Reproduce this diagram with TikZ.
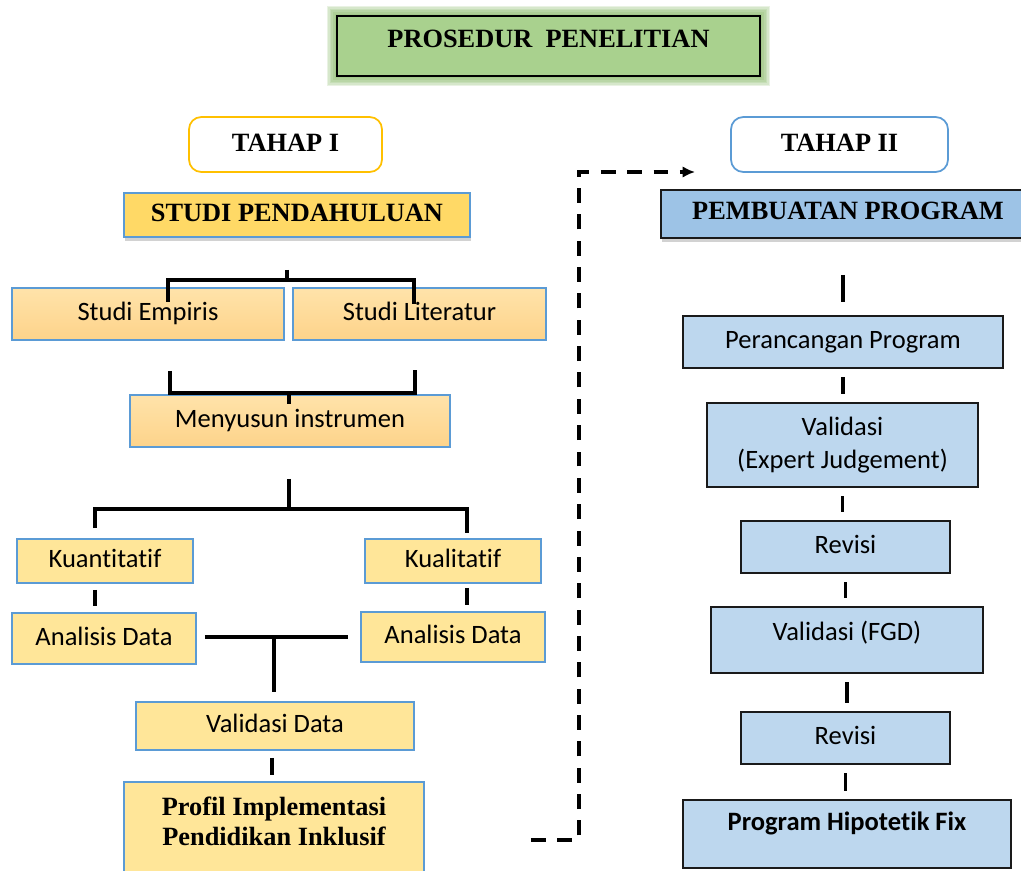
\documentclass[tikz,border=0pt]{standalone}
\usepackage{fontspec}
\usepackage{xcolor,tikz}
\usetikzlibrary{positioning,calc,shadows,backgrounds,arrows.meta}
\newfontfamily\calibri{Carlito}[Ligatures=NoCommon]
\newfontfamily\timesb{Liberation Serif}
\definecolor{ppGreenFill}{HTML}{A9D18E}
\definecolor{ppGreenGlow}{HTML}{70AD47}
\definecolor{ppGoldLine}{HTML}{FFC000}
\definecolor{ppBlueLine}{HTML}{5B9BD5}
\definecolor{ppYellowFill}{HTML}{FFD966}
\definecolor{ppPaleYellow}{HTML}{FFE699}
\definecolor{ppOrangeTop}{HTML}{FFE3AA}
\definecolor{ppOrangeBot}{HTML}{FDD38A}
\definecolor{ppBlueFill}{HTML}{9DC3E6}
\definecolor{ppPaleBlue}{HTML}{BDD7EE}
\definecolor{ppDarkLine}{HTML}{1A1A1A}

\tikzset{
  bx/.style={draw, rectangle, inner sep=0pt, line width=1pt},
  dims/.style 2 args={minimum width=#1*0.02cm, minimum height=#2*0.02cm},
  ln/.style={text height=10.8pt, text depth=#1},
  ln/.default=3pt,
  body/.style={font=\calibri\fontsize{15.1}{18.7}\selectfont},
  head/.style={font=\timesb\bfseries\fontsize{15}{17}\selectfont},
  orangebox/.style={bx, body, ln, draw=ppBlueLine, top color=ppOrangeTop, bottom color=ppOrangeBot},
  yellowbox/.style={bx, body, ln, draw=ppBlueLine, fill=ppPaleYellow},
  bluebox/.style={bx, body, draw=ppDarkLine, line width=1.3pt, fill=ppPaleBlue},
  tahapbox/.style={bx, head, ln, rounded corners=7pt, fill=white},
  link/.style={line width=2pt},
  dashlink/.style={line width=2pt, dash pattern=on 8.5pt off 6.5pt,
    -{Latex[length=7pt,width=6.5pt]}},
}

\begin{document}
\begin{tikzpicture}[x=0.02cm, y=-0.02cm]

\useasboundingbox (0,0) rectangle (1021,871);
\begin{scope}[on background layer]
  \fill[white] (0,0) rectangle (1021,871);
\end{scope}

% --- TITLE ---
\node[bx, head, ln=8.7pt, fill=ppGreenFill, draw=black, dims={423}{60}]
  (judul) at (548.5,46) {PROSEDUR\ \ PENELITIAN};
\begin{scope}[on background layer]
  \foreach \w in {1,...,6}
    \draw[ppGreenGlow, opacity=0.15, line width=\w*1.8pt]
      (judul.south west) rectangle (judul.north east);
\end{scope}

% --- TAHAP LABELS ---
\node[tahapbox, draw=ppGoldLine, dims={193}{55}] (tahapI) at (285.5,144.5) {TAHAP I};
\node[tahapbox, draw=ppBlueLine, dims={217}{55}] (tahapII) at (839.5,144.5) {TAHAP II};

\node[bx, head, ln, fill=ppYellowFill, draw=ppBlueLine, dims={346}{44},
  drop shadow={shadow xshift=0.6pt, shadow yshift=-2.4pt, opacity=0.35}]
  (studi) at (297,215) {STUDI PENDAHULUAN};
\node[bx, head, ln=5pt, fill=ppBlueFill, draw=ppDarkLine, dims={374}{48},
  drop shadow={shadow xshift=0.6pt, shadow yshift=-2.4pt, opacity=0.35}]
  (buat) at (848,214) {PEMBUATAN PROGRAM};

% --- TAHAP I BOXES ---
\node[orangebox, dims={272}{52}] (empiris) at (148,314) {Studi Empiris};
\node[orangebox, dims={253}{52}] (lit) at (419.5,314) {Studi Literatur};
\node[orangebox, dims={320}{52}] (susun) at (290,421) {Menyusun instrumen};

\node[yellowbox, dims={176}{44}] (kuan) at (105,561) {Kuantitatif};
\node[yellowbox, dims={176}{44}] (kual) at (453,561) {Kualitatif};
\node[yellowbox, dims={184}{51}] (anL) at (104,638.5) {Analisis Data};
\node[yellowbox, dims={184}{50}] (anR) at (453,637) {Analisis Data};
\node[yellowbox, dims={278}{48}] (vdata) at (275,726) {Validasi Data};
\node[bx, head, align=center, draw=ppBlueLine, fill=ppPaleYellow, dims={300}{91},
  text depth=7.4pt] (profil) at (274,827.5) {Profil Implementasi\\Pendidikan Inklusif};

% --- TAHAP II BOXES ---
\node[bluebox, ln, dims={320}{52}] (peran) at (843,342) {Perancangan Program};
\node[bluebox, align=center, dims={271}{84}] (vej) at (842.5,445)
  {Validasi\\(Expert Judgement)};
\node[bluebox, ln, dims={209}{52}] (rev1) at (845.5,547) {Revisi};
\node[bluebox, ln=10.3pt, dims={272}{66}] (fgd) at (847,640) {Validasi (FGD)};
\node[bluebox, ln, dims={209}{52}] (rev2) at (845.5,738) {Revisi};
\node[bluebox, ln=14.8pt, dims={328}{68}] (hipo) at (847,834)
  {\bfseries Program Hipotetik Fix};

% --- BRACKETS, TAHAP I ---
\coordinate (sA) at (287,270);
\coordinate (sB) at (287,280);
\coordinate (sL) at (168,302);
\coordinate (sR) at (414,304);
\draw[link] (sA) -- (sB);
\draw[link] (sL) |- (sB) -| (sR);

\coordinate (mL) at (170,371);
\coordinate (mR) at (415,370);
\coordinate (mB) at (289,393);
\draw[link] (mL) |- (mB) -| (mR);
\draw[link] (mB) -- ($(susun.north)+(-1,10)$);

\coordinate (nA) at ($(susun.south)+(-1,31)$);
\coordinate (nB) at (289,509);
\coordinate (nL) at (95,528);
\coordinate (nR) at (467,533);
\draw[link] (nA) -- (nB);
\draw[link] (nL) |- (nB) -| (nR);

\draw[link] ($(kuan.south)+(-10,6)$) -- ($(anL.north)+(-9,-6)$);
\draw[link] ($(kual.south)+(14,4)$) -- ($(anR.north)+(14,-6)$);

\draw[link] ($(anL.east)+(8,-1.5)$) -- ($(anR.west)+(-12,0)$);
\coordinate (tM) at (274,637);
\draw[link] (tM) -- ($(vdata.north)+(-1,-9)$);
\draw[link] ($(vdata.south)+(-3,7)$) -- ($(profil.north)+(-2,-6)$);

% --- STUBS, TAHAP II ---
\draw[link] ($(peran.north)+(0,-40)$) -- ($(peran.north)+(0,-13)$);
\foreach \a/\b in {peran/vej, vej/rev1, rev1/fgd, fgd/rev2, rev2/hipo}
  \draw[link, shorten <=4.6pt, shorten >=4.6pt] (\a.south) -- (\a.south |- \b.north);

% --- DASHED LINK TO TAHAP II ---
\coordinate (dS) at ($(profil.east)+(106,12.5)$);
\coordinate (dC) at (579,172);
\coordinate (dE) at (695,172);
\draw[dashlink] (dS) -| (dC) -- (dE);

\end{tikzpicture}
\end{document}
